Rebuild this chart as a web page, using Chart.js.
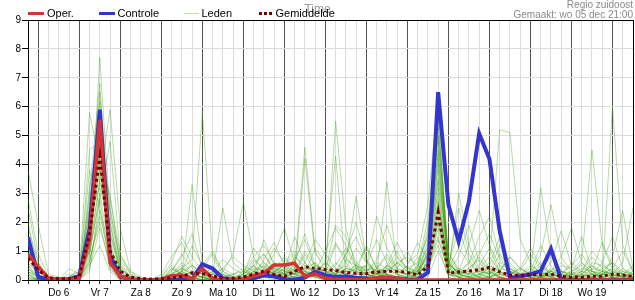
<!DOCTYPE html>
<html>
<head>
<meta charset="utf-8">
<script src="https://cdn.jsdelivr.net/npm/chart.js@4/dist/chart.umd.min.js"></script>
<style>
  html, body { margin: 0; padding: 0; background: #fff; }
  #wrap { position: relative; width: 635px; height: 300px; overflow: hidden; font-family: "Liberation Sans", Arial, sans-serif; }
  #c { position: absolute; left: 0; top: 0; }
  .t { position: absolute; white-space: nowrap; }
  .lg { font-size: 11px; line-height: 11px; color: #000; top: 8px; }
  .sw { position: absolute; }
</style>
</head>
<body>
<div id="wrap">
  <canvas id="c" width="635" height="300"></canvas>
  <div class="t" style="left:0;width:635px;text-align:center;top:3px;font-size:12px;line-height:12px;color:#999;">Time</div>
  <div class="sw" style="left:28px;top:12px;width:16px;height:3px;background:#d63333;"></div>
  <div class="t lg" style="left:47px;">Oper.</div>
  <div class="sw" style="left:99px;top:12px;width:16px;height:3px;background:#3434cf;"></div>
  <div class="t lg" style="left:117.5px;">Controle</div>
  <div class="sw" style="left:184px;top:13px;width:15px;height:1px;background:#bfe0b0;"></div>
  <div class="t lg" style="left:201.5px;">Leden</div>
  <div class="sw" style="left:259px;top:12px;width:14px;height:3px;background:repeating-linear-gradient(90deg,#7a0000 0 3px,transparent 3px 5px);"></div>
  <div class="t lg" style="left:275.5px;">Gemiddelde</div>
  <div class="t" style="right:2px;top:0px;font-size:10px;line-height:10px;color:#8a8a8a;text-align:right;">Regio zuidoost</div>
  <div class="t" style="right:2px;top:9.5px;font-size:10px;line-height:10px;color:#8a8a8a;text-align:right;">Gemaakt: wo 05 dec 21:00</div>
</div>
<script>
// x index: 0 = wo 5 dec 18:00, step 6 hours, 60 points
const dayLabels = ['Do 6','Vr 7','Za 8','Zo 9','Ma 10','Di 11','Wo 12','Do 13','Vr 14','Za 15','Zo 16','Ma 17','Di 18','Wo 19'];
const yTicks = [0,1,2,3,4,5,6,7,8,9];

const oper = [0.9, 0.45,0.07,0.02,0.02, 0.05,1.4,5.55,0.6, 0.12,0.02,0,0, 0.02,0.15,0.17,0.03, 0.4,0.05,0,0, 0.02,0.14,0.23,0.52, 0.52,0.58,0.12,0.21, 0.06,0.03,0.03,0.02, 0.02,0.08,0.1,0.06, 0.01,0,0,0, 0,0,0,0, 0,0,0,0, 0,0,0,0, 0,0,0,0, 0,0,0];
const controle = [1.48, 0.1,0.02,0.02,0.02, 0.14,1.75,5.9,0.82, 0.12,0.02,0,0, 0,0,0.02,0.03, 0.55,0.4,0.06,0, 0.02,0.06,0.16,0.12, 0.03,0.02,0.08,0.29, 0.17,0.1,0.12,0.08, 0.05,0.03,0.05,0.05, 0.02,0.01,0.26,6.5, 2.6,1.33,2.72,5.07, 4.19,1.7,0.07,0.13, 0.2,0.31,1.08,0.02, 0,0,0,0, 0,0,0];
const gemiddelde = [0.75, 0.35,0.07,0.04,0.05, 0.12,1.6,4.28,1.0, 0.3,0.1,0.05,0.03, 0.04,0.08,0.12,0.25, 0.22,0.14,0.06,0.06, 0.1,0.2,0.31,0.2, 0.12,0.3,0.46,0.4, 0.36,0.33,0.26,0.23, 0.22,0.28,0.3,0.3, 0.26,0.17,0.46,2.34, 0.23,0.28,0.31,0.35, 0.44,0.28,0.17,0.16, 0.18,0.18,0.2,0.13, 0.09,0.1,0.13,0.13, 0.2,0.17,0.12];

const leden = [
[3.8, 1.9,0.2,0.1,0, 0.1,2.5,6.2,1.5, 0.3,0.1,0,0, 0,0.3,0.9,0.4, 0.2,0.1,0,0, 0.3,0.8,1.2,0.6, 0.4,0.2,0.9,0.3, 0.1,0,0.2,0.5, 1.1,0.4,0.2,0, 0,0.3,1.2,4.8, 0.6,0.2,0.1,0, 0,0.1,0.3,0.2, 0.1,0,0,0.2, 0.5,0.9,0.3,0.1, 0,0.2,0.1],
[2.5, 0.6,0,0,0.1, 0.3,1.2,7.7,2.2, 0.5,0,0,0, 0.1,0.6,1.5,0.8, 0.3,0,0,0.1, 0.2,0.5,0.3,0.9, 1.8,0.6,0.2,0.1, 0.4,1.3,0.6,0.2, 0.1,0,0.3,0.8, 0.4,0.2,0.8,3.5, 1.0,0.3,0.6,1.5, 2.2,0.8,0.3,0.1, 0,0.1,0.4,0.2, 0,0,0.1,0.3, 0.6,0.2,0],
[2.0, 0.3,0.1,0,0, 0,3.2,5.2,1.0, 0.2,0,0,0, 0,0,0.4,0.7, 5.8,0.8,0.2,0, 0.1,0.3,0.6,0.3, 0.2,0.5,0.3,0.1, 0,0.2,0.9,1.5, 0.6,0.3,0.1,0, 0.1,0.5,2.1,5.6, 0.5,0.1,0,0.2, 0.4,0.1,0,0, 0.3,0.6,0.2,0.1, 0,0.3,0.8,0.4, 0.1,0,0],
[1.5, 0.4,0,0.1,0, 0.2,5.8,4.0,0.8, 0.1,0,0,0, 0,0.2,0.5,0.2, 0.4,0.9,0.3,0.1, 0,0.1,0.4,1.1, 0.6,0.3,1.0,0.5, 0.2,0.1,0,0.3, 0.5,1.4,0.6,0.2, 0,0.1,0.7,2.8, 0.4,1.1,0.6,0.2, 0.1,0,0,0.1, 0.3,1.2,0.5,0.1, 0,0,0.2,0.6, 1.5,0.4,0.1],
[1.0, 0.2,0,0,0, 0,1.0,3.5,5.9, 1.8,0.3,0.1,0, 0,0.1,0.3,0.1, 0,0.2,0.4,0.2, 0.1,0.6,0.9,0.4, 0.3,0.2,0.6,1.4, 0.9,0.4,0.2,0.1, 0,0.2,0.5,0.3, 0.2,0.1,0.4,2.2, 0.3,0.1,0.2,0.9, 1.6,0.7,0.3,0.1, 0,0.1,0.3,0.8, 1.8,0.6,0.2,0, 0,0.1,0.3],
[0.5, 0.1,0,0,0, 0.1,2.0,6.5,1.2, 0.1,0,0,0, 0.2,0.8,1.3,0.5, 0.2,0.1,0,0, 0,0.2,0.5,0.2, 0.1,0.4,4.6,1.0, 0.3,0.1,0.1,0.2, 0.4,0.1,0,0, 0,0.2,0.6,4.2, 0.5,0.3,1.2,2.4, 1.2,0.5,0.2,0, 0.1,0,0.1,0.2, 0.1,0,0,0.2, 0.4,1.0,0.3],
[0.8, 0.3,0,0,0.1, 0.4,1.5,4.5,2.8, 0.9,0.2,0,0, 0,0.1,0.2,3.3, 0.6,0.2,0.1,0, 0,0.1,0.3,0.5, 0.3,0.2,0.3,0.6, 0.2,5.5,1.8,0.4, 0.2,0.1,0.4,1.0, 0.3,0.2,1.0,3.0, 0.2,0.1,0,0, 0.1,0.3,0.8,0.4, 0.2,0.1,0,0.1, 0.3,0.7,4.5,1.2, 0.4,0.1,0],
[0.3, 0,0,0,0, 0,0.8,3.0,1.0, 0.2,0,0,0, 0,0.4,0.2,0.1, 0,0,0.3,0.9, 2.7,0.8,0.3,0.2, 0.1,0,0.2,0.4, 0.3,1.9,1.5,0.6, 0.3,0.7,1.9,0.8, 0.4,0.6,1.5,5.0, 0.8,0.3,0.2,0.1, 0,0.1,0,0, 0.1,0.4,0.9,0.3, 0.1,0,0.1,0.3, 0.2,0.1,0],
[0.2, 0,0,0,0, 0,0.6,2.2,0.8, 0.1,0,0,0, 0,0,0.1,0.3, 0.2,0.1,0.4,0.8, 0.5,0.3,0.2,0.1, 0.4,0.2,4.2,0.9, 0.5,0.2,0.6,2.9, 0.7,0.2,3.4,0.4, 1.0,0.3,0.8,3.8, 0.6,0.2,0.1,0.3, 0.6,5.2,5.1,1.4, 0.6,0.2,0.1,0, 0,0.2,0.5,0.3, 0.1,0,0],
[1.2, 0.5,0.1,0,0, 0,1.8,5.0,1.6, 0.4,0.1,0,0, 0,0.2,0.6,0.3, 0.1,0,0,0.2, 0.4,0.2,0.1,0.3, 0.2,0.8,0.5,0.3, 0.2,1.2,0.8,0.3, 0.1,0.4,0.8,0.3, 0.2,0.4,1.6,5.3, 0.9,0.4,0.2,0.5, 1.1,0.3,0.1,0, 0,0.2,0.6,1.7, 0.5,0.2,0.1,0, 0.1,0.3,0.2],
[0.1, 0,0,0,0, 0,0.5,1.2,0.3, 0,0,0,0, 0,0,0,0.1, 0.1,0,0,0, 0,0.2,0.7,1.3, 0.5,0.9,0.3,0.1, 0,0.1,0.3,0.2, 0.5,2.2,1.1,0.4, 0.3,0.2,0.5,2.4, 0.3,0.8,1.9,0.6, 0.2,0.1,0,0, 0.2,0.9,2.6,0.8, 0.3,0.1,0,0.1, 6.0,1.2,0.3],
[0.6, 0.2,0,0,0, 0,2.8,4.8,0.5, 0,0,0,0, 0.1,0.5,0.2,0, 0,0,0.1,0, 0,0.1,0.2,0.1, 0.3,1.5,0.6,0.2, 0.1,0.3,0.5,0.2, 0.2,0.1,0.5,1.3, 0.6,0.9,2.6,6.3, 0.2,0,0.1,0.2, 0.5,0.3,0.1,0, 0,0.1,0.2,0.1, 0,0.2,0.6,0.5, 0.3,0.1,0.2],
[0.4, 0.1,0,0,0, 0.2,3.8,2.5,0.4, 0.1,0,0,0, 0,0.3,0.8,1.6, 0.4,0.2,2.5,0.6, 0.3,0.1,0,0, 0.1,0.3,0.2,0.5, 0.4,0.2,0.1,0, 0.3,0.5,0.2,0.1, 0.5,1.3,0.7,2.0, 0.4,2.5,0.9,0.3, 0.2,0.6,0.4,0.1, 0,0.3,0.1,0, 0.2,0.4,0.3,1.3, 0.5,0.2,0.4],
[0, 0,0,0,0.4, 0.2,1.0,5.5,2.5, 0.6,0.1,0,0, 0,0,0.1,0.2, 0.1,0,0,0, 0.1,0.4,0.3,0.6, 0.3,0.2,0.4,0.3, 1.0,1.8,1.2,0.5, 0.2,0.1,0.2,0.1, 0,0.3,1.0,4.5, 0.7,0.2,0.6,1.0, 0.4,0.2,0.1,0, 0.2,0.5,0.3,0.2, 0.6,0.3,0.2,0.1, 0.8,2.4,0.4],
[0.2, 0,0,0,0, 0,0.3,2.8,4.8, 0.8,0.3,0,0, 0.1,0.2,0.4,0.2, 0.1,0.3,0.7,0.4, 0.2,0.5,0.1,0, 0.2,0.1,0.3,0.2, 0.6,0.3,0.9,2.0, 0.7,0.2,0.1,0.3, 0.2,0.8,0.4,1.4, 0.3,3.0,1.2,0.4, 0.2,0.9,0.4,0.2, 0.1,0,0.2,0.5, 0.4,1.5,0.3,0.1, 0,0.2,0.5],
[0.9, 0.3,0.1,0,0, 0.1,1.5,3.8,1.0, 0.2,0,0,0, 0,0.1,0.3,1.2, 0.5,1.0,0.3,0.1, 0,0.3,0.5,0.2, 0.1,0.6,1.6,0.5, 0.3,0.2,0.4,0.3, 1.2,0.4,0.3,0.6, 0.4,0.3,0.9,4.0, 0.6,0.2,0.3,0.1, 0.3,1.2,0.5,0.2, 0.5,0.3,0.1,0, 0.1,0.3,1.0,0.6, 0.2,0,0.1],
[0.05, 0,0,0,0, 0,0.4,1.8,0.6, 0,0,0,0, 0,0,0,0, 0,0,0,0, 0,0,0.1,0.1, 0.1,0.1,0.2,0.1, 0,0.1,0.3,0.5, 0.3,0.2,0.1,0.1, 0.2,0.1,0.1,1.0, 0.2,0.1,0,0, 0.1,0.2,0.1,0, 0,0.1,0.1,0.3, 0.2,0.1,0,0, 0.1,0,0.1],
[0.3, 0.1,0,0,0, 0,2.2,4.2,0.9, 0.1,0,0,0, 0,0.1,0.1,0, 0,0.1,0.2,0.1, 0,0,0.4,0.2, 0.1,0,0.1,0.2, 0.1,0.2,0.1,0.1, 0,0.3,0.2,0.1, 0.1,0.2,0.6,3.2, 0.4,0.2,0.3,0.1, 0,0,0.2,0.4, 0.2,0.1,0,0, 0,0.1,0.3,0.2, 0.1,0.4,0.2],
[1.8, 0.6,0.1,0,0, 0,2.5,3.2,1.9, 0.4,0.1,0,0, 0,0.2,0.1,0.3, 0.2,0.4,0.2,0, 0.2,1.1,0.6,0.3, 0.5,0.2,0.1,0.3, 0.2,0.5,1.1,0.4, 0.2,0.1,0.2,0.6, 0.8,0.5,0.3,1.8, 0.2,0.1,0.4,0.7, 0.3,0.1,0,0.3, 0.9,0.4,0.2,0.1, 0.2,0.6,0.3,0.2, 0.4,0.2,0],
[0.1, 0,0,0,0.1, 0.3,1.0,2.8,0.5, 0.1,0,0,0, 0,0.1,0.3,0.1, 0,0,0,0.1, 0.1,0.2,0.2,0.4, 0.2,0.1,0.5,0.3, 0.6,4.3,0.2,0.1, 0.1,0.2,0.1,0, 0.1,0.1,0.2,2.6, 0.5,0.3,0.2,0.3, 0.2,0.4,0.3,0.1, 0,0.2,0.3,0.2, 0.1,0,0,0.1, 0.2,0.1,0.3],
[0.7, 0.2,0,0,0, 0,1.4,4.0,3.0, 0.5,0.1,0,0, 0,0,0.2,0.5, 0.3,0.1,0,0, 0,0.2,1.4,0.5, 0.2,0.3,0.2,0.1, 0.1,0,0.2,0.4, 0.3,0.6,0.4,0.2, 0.1,0.4,1.8,5.0, 0.4,0.1,0,0.1, 0.5,1.5,0.6,0.2, 0.3,3.2,0.9,0.3, 0.1,0,0.1,0.2, 0.3,0.1,0],
[0, 0,0,0,0, 0,0.7,2.0,0.4, 0,0,0,0, 0,0,0.1,0.2, 0.1,0,0.1,0.2, 0.3,0.2,0.1,0.4, 0.8,0.4,0.2,0.3, 0.2,0.6,0.3,0.1, 0.2,0.4,0.9,0.4, 0.2,0.3,0.5,1.5, 0.3,0.2,0.1,0.4, 0.8,0.3,0.2,0.4, 1.1,0.5,0.2,0.1, 0.3,0.5,0.2,0.4, 0.6,0.3,0.1],
[2.8, 0.9,0.1,0,0, 0,4.5,4.8,0.6, 0.1,0,0,0, 0,0,0,0, 0.1,0.2,0.1,0, 0,0.1,0.2,0.3, 0.5,0.3,0.2,1.1, 0.6,0.3,0.2,0.1, 0.1,0.2,0.5,0.3, 0.2,0.3,0.4,1.2, 0.1,0,0,0.2, 0.3,0.1,0,0, 0,0.1,0.2,0.1, 0.1,0.2,0.1,0, 0.1,0,0.2],
[0.3, 0.1,0,0,0.2, 0.1,0.9,3.4,2.0, 0.3,0,0,0, 0,0.1,0.2,0, 0,0,0,0, 0.2,0.7,0.4,0.2, 0.4,0.7,1.4,0.4, 0.3,0.2,0.7,0.5, 0.4,0.3,0.2,0.1, 0.1,0.5,1.1,3.4, 0.5,1.8,0.7,0.2, 0.1,0.3,0.8,0.4, 0.2,0.1,0.3,0.6, 0.2,0.1,0.4,0.3, 0.2,0.6,2.5],
[0.5, 0.1,0,0,0, 0,1.6,5.6,1.3, 0.2,0,0,0, 0,0.1,0.2,0.1, 0,0,0,0, 0,0.1,0.3,0.4, 0.2,0.1,0.4,0.6, 0.3,0.1,0.2,0.1, 0,0.1,0.3,0.6, 0.3,0.2,0.9,4.4, 0.3,0.1,0.1,0, 0.1,0.2,0.3,0.1, 0,0.1,0,0.1, 0.2,0.3,0.1,0, 0.1,0.1,0],
[1.1, 0.3,0,0,0, 0,3.0,6.8,1.7, 0.3,0,0,0, 0,0.2,0.4,0.2, 0.1,0,0,0, 0.1,0.3,0.2,0.1, 0.2,0.4,0.2,0.2, 0.1,0.3,0.2,0.4, 0.5,0.3,0.1,0, 0,0.2,1.4,5.6, 0.6,0.2,0.4,0.8, 0.3,0.1,0,0, 0.1,0.2,0.3,0.1, 0,0.1,0.2,0.1, 0.3,0.2,0.1],
[0.2, 0,0,0,0, 0,1.1,4.4,2.4, 0.7,0.2,0,0, 0,0.4,0.2,0, 0,0.1,0,0, 0,0,0.1,0.2, 0.6,1.0,0.6,0.2, 0.1,0.2,0.4,0.3, 0.2,0.1,0,0.2, 0.5,0.2,0.6,2.7, 0.2,0.4,0.1,0, 0.2,0.5,0.4,0.2, 0.1,0.4,0.8,0.3, 0.2,0.1,0.2,0.1, 0,0.2,0.1],
[0.4, 0.1,0,0,0, 0.1,0.6,2.4,1.1, 0.1,0,0,0, 0,0,0.3,0.5, 0.2,0,0,0, 0,0.5,0.9,0.3, 0.1,0.2,0.1,0.3, 0.2,0.1,0.4,1.1, 0.6,0.2,0.4,0.2, 0.1,0.1,0.3,2.0, 0.4,0.2,0.1,0.1, 0.1,0,0.1,0.2, 0.4,0.2,0.1,0, 0.1,0.2,0.5,0.2, 0.1,0,0.2]
];

const pts = arr => arr.map((v, i) => ({ x: i, y: v }));

const datasets = [];
datasets.push({ label: 'Gemiddelde', data: pts(gemiddelde), borderColor: '#7a0000', borderWidth: 3, borderDash: [3, 3], pointRadius: 0, order: 0, borderCapStyle: 'butt' });
datasets.push({ label: 'Oper.', data: pts(oper), borderColor: '#d63333', borderWidth: 3.5, pointRadius: 0, order: 1 });
datasets.push({ label: 'Controle', data: pts(controle), borderColor: '#3434cf', borderWidth: 4, pointRadius: 0, order: 2 });
leden.forEach((m, k) => datasets.push({ label: 'Leden', data: pts(m), borderColor: 'rgba(55,155,15,0.36)', borderWidth: 1, pointRadius: 0, order: 3 + k }));

const frame = {
  id: 'frame',
  afterDraw(chart) {
    const a = chart.chartArea, c = chart.ctx;
    c.save();
    c.strokeStyle = '#000';
    c.lineWidth = 1;
    c.beginPath();
    c.moveTo(a.left, Math.round(a.top) + 0.5);
    c.lineTo(a.right + 1, Math.round(a.top) + 0.5);
    c.moveTo(Math.round(a.right) + 0.5, a.top);
    c.lineTo(Math.round(a.right) + 0.5, a.bottom);
    c.stroke();
    c.restore();
  }
};

Chart.defaults.font.family = '"Liberation Sans", Arial, sans-serif';
Chart.defaults.font.size = 10;
Chart.defaults.color = '#000';

new Chart(document.getElementById('c'), {
  type: 'line',
  data: { datasets },
  plugins: [frame],
  options: {
    responsive: false,
    animation: false,
    devicePixelRatio: 1,
    layout: { padding: { top: 20, right: 2, left: 0, bottom: 0 } },
    plugins: { legend: { display: false }, tooltip: { enabled: false }, title: { display: false } },
    elements: { line: { tension: 0 } },
    scales: {
      x: {
        type: 'linear', min: 0, max: 59,
        afterFit(s) { s.height = 20; },
        border: { color: '#000', width: 1 },
        grid: {
          color: ctx => (ctx.tick && ctx.tick.value % 4 === 1) ? '#555' : '#dcdcdc',
          tickColor: '#333', tickLength: 4, drawTicks: true
        },
        ticks: {
          stepSize: 1, autoSkip: false, maxRotation: 0, padding: 3, color: '#000',
          callback: v => ((v - 3) % 4 === 0 && v >= 3) ? dayLabels[(v - 3) / 4] : ''
        }
      },
      y: {
        min: 0, max: 9,
        afterFit(s) { s.width = 28; },
        afterBuildTicks(s) { s.ticks = yTicks.map(v => ({ value: v })); },
        border: { color: '#000', width: 1 },
        grid: { color: '#dcdcdc', tickColor: '#000', tickLength: 6 },
        ticks: { padding: 1, color: '#000' }
      }
    }
  }
});
</script>
</body>
</html>
